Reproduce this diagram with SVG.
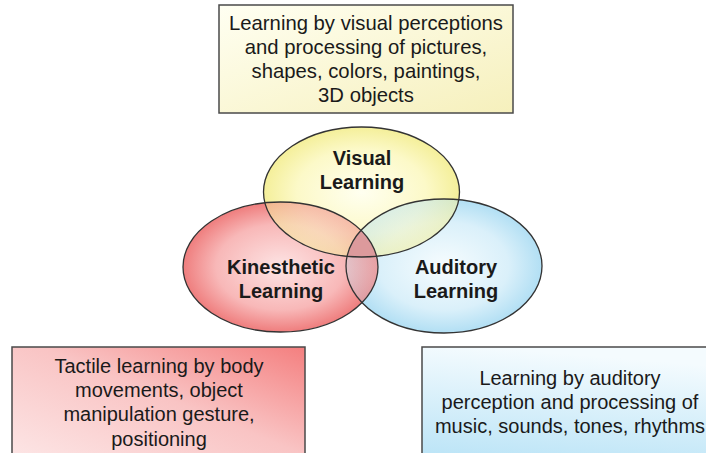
<svg xmlns="http://www.w3.org/2000/svg" width="706" height="453" viewBox="0 0 706 453">
<defs>
<style>
.box{stroke:#4a4a4a;stroke-width:1.5}
.ell{stroke:#333;stroke-width:1.3;fill:none}
.t{font-family:"Liberation Sans",Arial,sans-serif;font-size:20px;fill:#1a1a1a;text-anchor:middle}
.b{font-family:"Liberation Sans",Arial,sans-serif;font-size:20px;font-weight:bold;fill:#1a1a1a;text-anchor:middle}
</style>
<linearGradient id="gTop" x1="0" y1="0" x2="1" y2="1">
<stop offset="0" stop-color="#fffff2"/>
<stop offset="1" stop-color="#f6f0bc"/>
</linearGradient>
<linearGradient id="gRed" x1="0" y1="1" x2="1" y2="0">
<stop offset="0" stop-color="#fde8e8"/>
<stop offset="0.55" stop-color="#f9c4c4"/>
<stop offset="1" stop-color="#f47f7f"/>
</linearGradient>
<linearGradient id="gBlue" x1="0.2" y1="0" x2="0" y2="1">
<stop offset="0" stop-color="#f4fbfe"/>
<stop offset="1" stop-color="#b6e2f6"/>
</linearGradient>
<radialGradient id="rY" cx="0.5" cy="0.5" r="0.55">
<stop offset="0" stop-color="#fffff0"/>
<stop offset="0.6" stop-color="#fcf9c8"/>
<stop offset="1" stop-color="#f2ec8c"/>
</radialGradient>
<radialGradient id="rR" cx="0.5" cy="0.5" r="0.55">
<stop offset="0" stop-color="#fde4e4"/>
<stop offset="0.6" stop-color="#f8b8b8"/>
<stop offset="1" stop-color="#ec6c6c"/>
</radialGradient>
<radialGradient id="rB" cx="0.5" cy="0.5" r="0.55">
<stop offset="0" stop-color="#f6fcfe"/>
<stop offset="0.6" stop-color="#daf0fa"/>
<stop offset="1" stop-color="#a6daf2"/>
</radialGradient>
<clipPath id="cV"><ellipse cx="361.5" cy="192" rx="98" ry="65"/></clipPath>
<clipPath id="cK"><ellipse cx="280.5" cy="267" rx="97.5" ry="65"/></clipPath>
<clipPath id="cA"><ellipse cx="444" cy="266" rx="98" ry="67"/></clipPath>
</defs>
<rect width="706" height="453" fill="#ffffff"/>
<g id="visual-description">
<rect class="box" x="219" y="5" width="294" height="108" fill="url(#gTop)"/>
<text class="t" x="366" y="30" style="font-size:20.3px">Learning by visual perceptions</text>
<text class="t" x="366" y="54" style="font-size:20.3px">and processing of pictures,</text>
<text class="t" x="366" y="78" style="font-size:20.3px">shapes, colors, paintings,</text>
<text class="t" x="366" y="102" style="font-size:20.3px">3D objects</text>
</g>
<g id="venn-fills">
<ellipse cx="444" cy="266" rx="98" ry="67" fill="url(#rB)"/>
<ellipse cx="280.5" cy="267" rx="97.5" ry="65" fill="url(#rR)"/>
<ellipse cx="444" cy="266" rx="98" ry="67" fill="url(#rB)" opacity="0.3" clip-path="url(#cK)"/>
<ellipse cx="361.5" cy="192" rx="98" ry="65" fill="url(#rY)"/>
<ellipse cx="280.5" cy="267" rx="97.5" ry="65" fill="url(#rR)" opacity="0.5" clip-path="url(#cV)"/>
<ellipse cx="444" cy="266" rx="98" ry="67" fill="url(#rB)" opacity="0.45" clip-path="url(#cV)"/>
<g clip-path="url(#cV)">
<ellipse cx="444" cy="266" rx="98" ry="67" fill="#dc9a9c" clip-path="url(#cK)"/>
</g>
</g>
<g id="visual-learning">
<ellipse class="ell" cx="361.5" cy="192" rx="98" ry="65"/>
<text class="b" x="362" y="165">Visual</text>
<text class="b" x="362" y="189">Learning</text>
</g>
<g id="kinesthetic-learning">
<ellipse class="ell" cx="280.5" cy="267" rx="97.5" ry="65"/>
<text class="b" x="281" y="274">Kinesthetic</text>
<text class="b" x="281" y="298">Learning</text>
</g>
<g id="auditory-learning">
<ellipse class="ell" cx="444" cy="266" rx="98" ry="67"/>
<text class="b" x="456" y="274">Auditory</text>
<text class="b" x="456" y="298">Learning</text>
</g>
<g id="kinesthetic-description">
<rect class="box" x="12" y="347" width="293" height="120" fill="url(#gRed)"/>
<text class="t" x="159" y="373">Tactile learning by body</text>
<text class="t" x="159" y="397">movements, object</text>
<text class="t" x="159" y="421">manipulation gesture,</text>
<text class="t" x="159" y="446">positioning</text>
</g>
<g id="auditory-description">
<rect class="box" x="422" y="347" width="296" height="120" fill="url(#gBlue)"/>
<text class="t" x="570" y="385">Learning by auditory</text>
<text class="t" x="570" y="409">perception and processing of</text>
<text class="t" x="570" y="433">music, sounds, tones, rhythms</text>
</g>
<g id="connectors"/>
</svg>
